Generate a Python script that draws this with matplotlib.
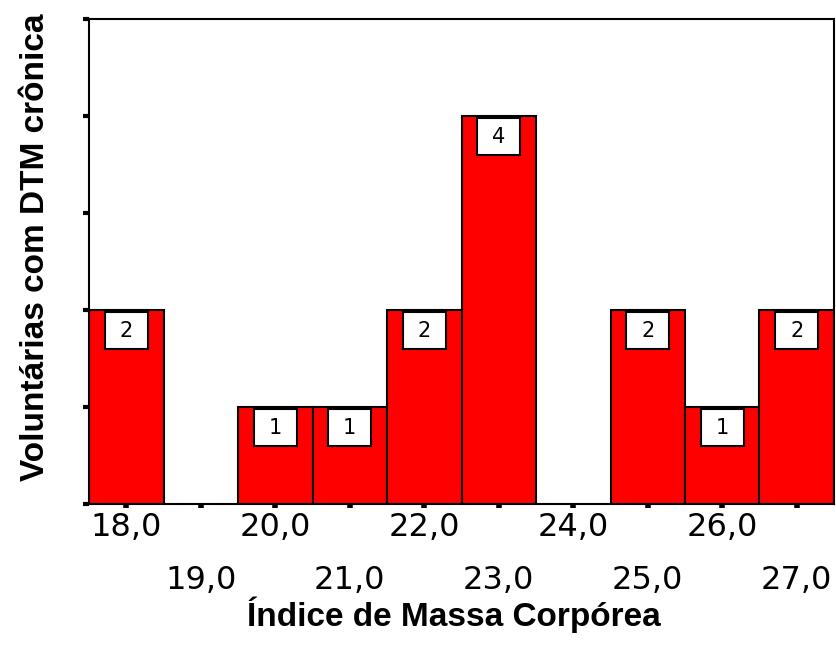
import matplotlib
matplotlib.use("Agg")
import matplotlib.pyplot as plt
from matplotlib.patches import Rectangle

# IMC classes (bar centres) and number of volunteers in each
imc = [18, 19, 20, 21, 22, 23, 24, 25, 26, 27]
counts = [2, 0, 1, 1, 2, 4, 0, 2, 1, 2]
tick_labels = ["18,0", "19,0", "20,0", "21,0", "22,0",
               "23,0", "24,0", "25,0", "26,0", "27,0"]
y_ticks = [0, 1, 2, 3, 4, 5]

plt.rcParams["font.family"] = ["Liberation Sans", "DejaVu Sans"]

fig = plt.figure(figsize=(8.36, 6.55), dpi=100)
ax = fig.add_axes([0.1065, 0.2305, 0.8911, 0.7405])

xs = [x for x, c in zip(imc, counts) if c > 0]
hs = [c for c in counts if c > 0]
ax.bar(xs, hs, width=1.0, color="#ff0000", edgecolor="black", linewidth=1.5)

# white label boxes hanging just below the top of each bar
box_w, box_h, gap = 0.58, 0.38, 0.025
for x, c in zip(xs, hs):
    ax.add_patch(Rectangle((x - box_w / 2, c - gap - box_h), box_w, box_h,
                           facecolor="white", edgecolor="black",
                           linewidth=1.5, zorder=3))
    ax.text(x, c - gap - box_h / 2, str(c), ha="center", va="center",
            fontsize=15, family="DejaVu Sans", zorder=4)

ax.set_xlim(imc[0] - 0.5, imc[-1] + 0.5)
ax.set_ylim(y_ticks[0], y_ticks[-1])

# even classes on the first row, odd classes on the second row
ax.set_xticks(imc[0::2])
ax.set_xticklabels(tick_labels[0::2])
ax.set_xticks(imc[1::2], minor=True)
ax.set_xticklabels(tick_labels[1::2], minor=True)
ax.tick_params(axis="x", which="both", direction="out", length=3, width=4,
               labelsize=23, labelfontfamily="DejaVu Sans")
ax.tick_params(axis="x", which="major", pad=3)
ax.tick_params(axis="x", which="minor", pad=41)

ax.set_yticks(y_ticks)
ax.set_yticklabels([])
ax.tick_params(axis="y", direction="out", length=4, width=3)

for sp in ax.spines.values():
    sp.set_linewidth(1.5)

fig.text(0.043, 0.623, "Voluntárias com DTM crônica", rotation=90,
         ha="center", va="center", fontsize=24, fontweight="bold")
fig.text(0.543, 0.061, "Índice de Massa Corpórea",
         ha="center", va="center", fontsize=24, fontweight="bold")

fig.savefig("out.png", dpi=100)
